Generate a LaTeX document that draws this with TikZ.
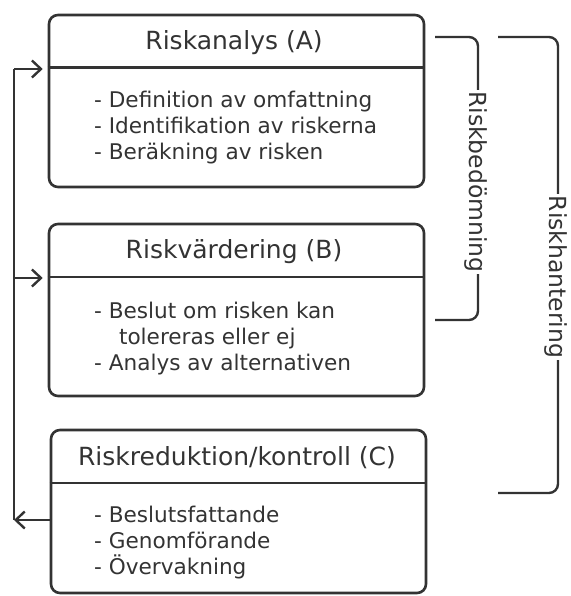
\documentclass[tikz,border=0pt]{standalone}
\usepackage{fontspec}
\setmainfont{DejaVu Sans}
\usetikzlibrary{arrows.meta}
\definecolor{ink}{HTML}{333333}
\begin{document}
\begin{tikzpicture}[x=1pt,y=-1pt,
  line width=2.4pt, draw=ink,
  box/.style={draw=ink, rounded corners=9pt, line width=2.6pt, inner sep=0pt, minimum width=375pt},
  ttl/.style={text=ink, inner sep=0pt, font=\fontsize{25}{30}\selectfont},
  bdy/.style={text=ink, inner sep=0pt, anchor=west, align=left, font=\fontsize{21.6}{26}\selectfont},
  lbl/.style={text=ink, fill=white, inner sep=1.5pt, rotate=-90, font=\fontsize{23.5}{28}\selectfont},
  arr/.style={-{Straight Barb[length=9pt,width=17pt,line width=2.4pt]}, line width=2.4pt},
  brk/.style={rounded corners=9pt, line width=2.4pt}]
\useasboundingbox (0,0) rectangle (570,596);
% boxes
\node[box, minimum height=172pt] (A) at (236.5,101) {};
\node[box, minimum height=172pt] (B) at (236.5,310) {};
\node[box, minimum height=163pt] (C) at (238.5,511.5) {};
% dividers
\draw[line width=2.4pt] (A.north west) ++(0,54) coordinate (Ad) -- (A.north east |- Ad);
\draw[line width=2.4pt] (B.north west) ++(0,54) coordinate (Bd) -- (B.north east |- Bd);
\draw[line width=2.4pt] (C.north west) ++(0,54) coordinate (Cd) -- (C.north east |- Cd);
% titles
\node[ttl] (At) at (234,43) {Riskanalys (A)};
\node[ttl] (Bt) at (234,252) {Riskvärdering (B)};
\node[ttl] (Ct) at (237,458) {Riskreduktion/kontroll (C)};
% bodies
\node[bdy] (Ab) at (93,128) {- Definition av omfattning\\- Identifikation av riskerna\\- Beräkning av risken};
\node[bdy] (Bb) at (93,339) {- Beslut om risken kan\\\hspace*{1.15em}tolereras eller ej\\- Analys av alternativen};
\node[bdy] (Cb) at (93,543) {- Beslutsfattande\\- Genomförande\\- Övervakning};
% feedback line
\coordinate (L1) at (14,69);
\coordinate (L2) at (14,278);
\coordinate (L3) at (14,520);
\draw (L1) -- (L3);
\draw[arr] (L1) -- ([xshift=-5pt]A.west |- L1);
\draw[arr] (L2) -- ([xshift=-5pt]B.west |- L2);
\draw[arr] (C.west |- L3) -- (L3);
% brackets
\coordinate (b1t) at (435,37);
\coordinate (b1b) at (435,320);
\draw[brk] (b1t) -- (478,37) -- (478,320) -- (b1b);
\node[lbl] (rb) at (476,182) {Riskbedömning};
\coordinate (b2t) at (498,37);
\coordinate (b2b) at (498,493);
\draw[brk] (b2t) -- (558,37) -- (558,493) -- (b2b);
\node[lbl] (rh) at (556,277) {Riskhantering};
\end{tikzpicture}
\end{document}
